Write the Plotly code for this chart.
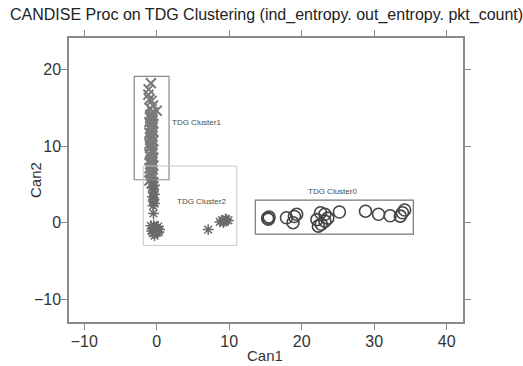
import plotly.graph_objects as go

# Cluster0 (circles)
c0_x = [15.3, 15.5, 15.4, 17.9, 19.3, 18.8, 19.0, 22.1, 22.6, 23.2, 22.7, 22.3, 23.2, 23.6, 25.2, 28.8, 30.6, 32.2, 33.6, 34.2, 33.9]
c0_y = [0.6, 0.75, 0.45, 0.65, 1.1, 0.0, 0.8, 0.4, 1.3, 1.1, -0.2, -0.45, 0.2, 0.6, 1.4, 1.5, 1.1, 0.9, 0.85, 1.65, 1.3]

# Cluster1 (x markers)
c1_x = [-0.8, -1.1, -1.15, -0.7, 0.0, -1.0, -0.5, -0.9, -0.6,
        -0.8, -0.5, -0.9, -0.6, -0.7, -1.0, -0.5, -0.8, -0.6, -0.9,
        -0.7, -0.5, -1.0, -0.7, -0.6, -0.9, -0.8, -0.5, -0.7, -1.0,
        -0.6, -0.8, -0.9, -0.5, -0.7, -0.6, -1.0, -0.8, -0.5, -0.7,
        -0.9, -0.6, -0.8, -0.5, -0.7, -1.0, -0.6, -0.8, -0.9, -0.5,
        -0.7, -0.6, -0.8, -1.0, -0.5, -0.7, -0.9, -0.6, -0.8, -0.7]
c1_y = [18.2, 17.4, 16.7, 15.9, 14.6, 16.1, 15.3, 14.9, 14.4,
        14.1, 13.9, 13.7, 13.5, 13.3, 13.1, 12.9, 12.7, 12.5, 12.3,
        12.1, 11.9, 11.7, 11.5, 11.3, 11.1, 10.9, 10.7, 10.5, 10.3,
        10.1, 9.9, 9.7, 9.5, 9.3, 9.1, 8.9, 8.7, 8.5, 8.3,
        8.1, 7.9, 7.7, 7.5, 7.3, 7.1, 6.9, 6.7, 6.5, 6.3,
        6.1, 5.9, 5.7, 5.5, 5.3, 5.1, 14.0, 12.0, 10.0, 8.0]

# Cluster2 (asterisks)
c2_x = [-0.5, -0.3, -0.6, -0.4, -0.5, -0.3, -0.6, -0.4, -0.5, -0.3,
        -0.5, -0.4, -0.45,
        -0.8, -0.4, 0.2, -0.6, 0.0, 0.4, -0.7, -0.2, 0.3, -0.5, 0.1, -0.3,
        7.1, 8.7, 9.0, 9.3, 9.6, 9.9, 9.2, 9.5]
c2_y = [5.2, 4.9, 4.6, 4.3, 4.0, 3.7, 3.4, 3.1, 2.8, 2.5,
        2.2, 3.0, 1.2,
        -0.4, -0.3, -0.5, -0.8, -0.7, -0.9, -1.1, -1.0, -1.2, -1.4, -1.3, -1.7,
        -0.9, 0.1, 0.3, 0.2, 0.4, 0.3, 0.0, 0.5]

FONT = "Liberation Sans, Arial, sans-serif"

fig = go.Figure()
fig.add_trace(go.Scatter(x=c1_x, y=c1_y, mode="markers",
                         marker=dict(symbol="x-thin-open", size=10, color="#7a7a7a",
                                     line=dict(color="#7a7a7a", width=2))))
fig.add_trace(go.Scatter(x=c2_x, y=c2_y, mode="markers",
                         marker=dict(symbol="asterisk-open", size=9, color="#6a6a6a",
                                     line=dict(color="#6a6a6a", width=1.5))))
fig.add_trace(go.Scatter(x=c0_x, y=c0_y, mode="markers",
                         marker=dict(symbol="circle-open", size=12, color="#444444",
                                     line=dict(color="#444444", width=1.6))))

# cluster boxes
fig.add_shape(type="rect", xref="x", yref="y", x0=-3.1, x1=1.7, y0=5.6, y1=19.1,
              line=dict(color="#8a8a8a", width=1.2))
fig.add_shape(type="rect", xref="x", yref="y", x0=-1.85, x1=11.05, y0=-2.96, y1=7.4,
              line=dict(color="#c8c8c8", width=1))
fig.add_shape(type="rect", xref="x", yref="y", x0=13.6, x1=35.4, y0=-1.5, y1=2.95,
              line=dict(color="#777777", width=1.2))

lab_font = dict(family=FONT, size=8, color="#4a4a4a")
fig.add_annotation(x=1.8, y=13.1, text="TDG Cluster1", showarrow=False, xanchor="left", font=lab_font)
fig.add_annotation(x=2.5, y=2.7, text="TDG Cluster2", showarrow=False, xanchor="left", font=lab_font)
fig.add_annotation(x=24.2, y=4.1, text="TDG Cluster0", showarrow=False, xanchor="center", font=lab_font)

# axis titles
fig.add_annotation(xref="paper", yref="paper", x=(265 - 69) / (463 - 69), y=-(355 - 322) / (322 - 38),
                   text="Can1", showarrow=False, xanchor="center", yanchor="middle",
                   font=dict(family=FONT, size=15, color="#333333"))
fig.add_annotation(xref="paper", yref="paper", x=-(69 - 35) / (463 - 69), y=(322 - 180) / (322 - 38),
                   text="Can2", showarrow=False, xanchor="center", yanchor="middle", textangle=-90,
                   font=dict(family=FONT, size=15, color="#333333"))

axis_common = dict(showgrid=False, zeroline=False, showline=True, linecolor="#8a8a8a", linewidth=1.5,
                   mirror="ticks", ticks="outside", ticklen=6, tickcolor="#8a8a8a", tickwidth=1,
                   tickfont=dict(family=FONT, size=16, color="#333333"))

fig.update_layout(
    width=523, height=366,
    margin=dict(l=69, r=60, t=38, b=44),
    paper_bgcolor="white", plot_bgcolor="white",
    showlegend=False,
    font=dict(family=FONT, color="#333333"),
    title=dict(text="CANDISE Proc on TDG Clustering (ind_entropy. out_entropy. pkt_count)",
               x=10/523, xanchor="left", xref="container", y=1-14/366, yanchor="middle",
               font=dict(size=16, color="#222222")),
    xaxis=dict(range=[-12.1, 42.25], tickvals=[-10, 0, 10, 20, 30, 40], ticklabelstandoff=-2, **axis_common),
    yaxis=dict(range=[-12.96, 24.1], tickvals=[-10, 0, 10, 20], ticklabelstandoff=-3, **axis_common),
)

fig.write_html("out.html")
